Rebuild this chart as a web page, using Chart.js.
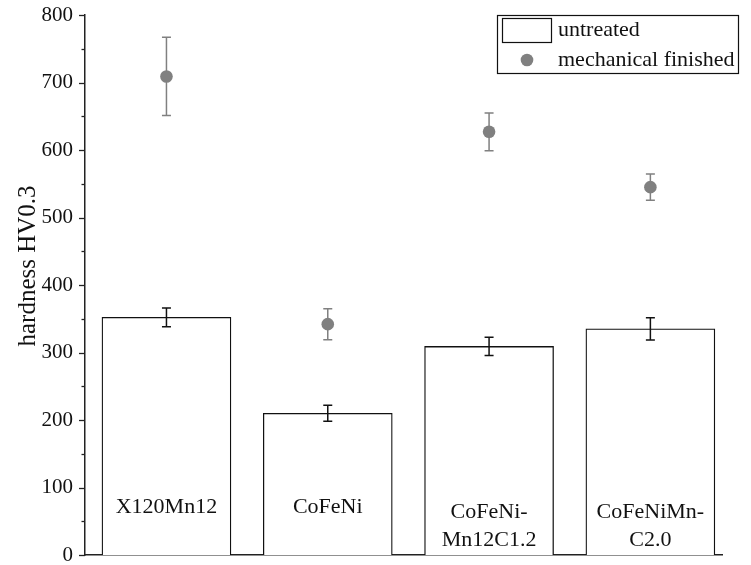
<!DOCTYPE html>
<html>
<head>
<meta charset="utf-8">
<script src="https://cdn.jsdelivr.net/npm/chart.js@4"></script>
<style>
  body { margin: 0; background: #fff; }
  canvas { display: block; }
</style>
</head>
<body>
<canvas id="myChart" width="751" height="565"></canvas>
<script>
const categories = [['X120Mn12'], ['CoFeNi'], ['CoFeNi-', 'Mn12C1.2'], ['CoFeNiMn-', 'C2.0']];
const untreated = [352, 210, 309, 335];
const untreatedErr = [14, 12, 13.5, 16.5];
const finished = [709, 342, 627, 545];
const finishedErr = [58, 23, 28, 19.5];
const yTicks = [0, 100, 200, 300, 400, 500, 600, 700, 800];

const FONT = "'Liberation Serif', 'Times New Roman', serif";
const GRAY = '#808080';
const AXIS = '#222';

// category i sits at x = i + 1 on a linear axis
const toXY = (arr) => arr.map((v, i) => ({ x: i + 1, y: v }));

function errorBars(ctx, xs, ys, vals, errs, color, cap) {
    ctx.save();
    ctx.strokeStyle = color;
    ctx.lineWidth = 1.5;
    vals.forEach((v, i) => {
        const x = xs.getPixelForValue(i + 1);
        const top = ys.getPixelForValue(v + errs[i]);
        const bot = ys.getPixelForValue(v - errs[i]);
        ctx.beginPath();
        ctx.moveTo(x, top); ctx.lineTo(x, bot);
        ctx.moveTo(x - cap, top); ctx.lineTo(x + cap, top);
        ctx.moveTo(x - cap, bot); ctx.lineTo(x + cap, bot);
        ctx.stroke();
    });
    ctx.restore();
}

const extras = {
    id: 'extras',
    afterDatasetsDraw(chart) {
        const { ctx, scales: { x, y }, chartArea } = chart;
        errorBars(ctx, x, y, untreated, untreatedErr, '#111', 4.5);
        errorBars(ctx, x, y, finished, finishedErr, GRAY, 4.5);

        // names written inside the bars
        ctx.save();
        ctx.fillStyle = '#111';
        ctx.font = '22px ' + FONT;
        ctx.textAlign = 'center';
        ctx.textBaseline = 'middle';
        categories.forEach((lines, i) => {
            const cx = x.getPixelForValue(i + 1);
            if (lines.length === 1) {
                ctx.fillText(lines[0], cx, chartArea.bottom - 48);
            } else {
                ctx.fillText(lines[0], cx, chartArea.bottom - 43);
                ctx.fillText(lines[1], cx, chartArea.bottom - 15);
            }
        });
        ctx.restore();
    },
    afterDraw(chart) {
        const { ctx, scales: { y }, chartArea } = chart;
        ctx.save();
        ctx.strokeStyle = AXIS;
        ctx.lineWidth = 1.3;
        // major + minor ticks on y
        for (let v = 0; v <= 800; v += 50) {
            const py = Math.round(y.getPixelForValue(v)) + 0.5;
            const len = v % 100 === 0 ? 6 : 3.5;
            ctx.beginPath();
            ctx.moveTo(chartArea.left - len, py);
            ctx.lineTo(chartArea.left, py);
            ctx.stroke();
        }

        // axis title
        ctx.fillStyle = '#111';
        ctx.font = '25px ' + FONT;
        ctx.textAlign = 'center';
        ctx.textBaseline = 'middle';
        ctx.translate(28, 266);
        ctx.rotate(-Math.PI / 2);
        ctx.fillText('hardness HV0.3', 0, 0);
        ctx.restore();

        // legend box
        ctx.save();
        ctx.strokeStyle = '#111';
        ctx.lineWidth = 1.2;
        ctx.strokeRect(497.5, 15.5, 241, 58);
        ctx.strokeRect(502.5, 18.5, 49, 24);
        ctx.fillStyle = GRAY;
        ctx.beginPath();
        ctx.arc(527, 60, 6.3, 0, Math.PI * 2);
        ctx.fill();
        ctx.fillStyle = '#111';
        ctx.font = '22px ' + FONT;
        ctx.textBaseline = 'middle';
        ctx.fillText('untreated', 558, 30);
        ctx.fillText('mechanical finished', 558, 60);
        ctx.restore();
    }
};

new Chart(document.getElementById('myChart'), {
    type: 'bar',
    data: {
        datasets: [{
            label: 'untreated',
            data: toXY(untreated),
            backgroundColor: '#fff',
            borderColor: '#111',
            borderWidth: 1.3,
            barThickness: 129,
            order: 2
        }, {
            type: 'scatter',
            label: 'mechanical finished',
            data: toXY(finished),
            backgroundColor: GRAY,
            borderWidth: 0,
            pointRadius: 6.3,
            order: 1
        }]
    },
    options: {
        responsive: false,
        animation: false,
        devicePixelRatio: 1,
        layout: { padding: { top: 15, right: 29, bottom: 0, left: 0 } },
        plugins: {
            legend: { display: false },
            tooltip: { enabled: false }
        },
        scales: {
            x: {
                type: 'linear',
                offset: false,
                min: 0.495,
                max: 4.444,
                ticks: { display: false },
                grid: { display: false, drawTicks: false },
                border: { display: true, color: AXIS, width: 1.5 },
                afterFit: (scale) => {
                    scale.height = 10;
                    scale.paddingLeft = 0;
                    scale.paddingRight = 0;
                }
            },
            y: {
                min: 0,
                max: 800,
                afterBuildTicks: (scale) => { scale.ticks = yTicks.map(v => ({ value: v })); },
                ticks: {
                    color: '#111',
                    padding: 12,
                    font: { family: FONT, size: 21 }
                },
                grid: { display: false, drawTicks: false },
                border: { display: true, color: AXIS, width: 1.5 },
                afterFit: (scale) => {
                    scale.width = 85;
                    scale.paddingTop = 0;
                    scale.paddingBottom = 0;
                }
            }
        }
    },
    plugins: [extras]
});
</script>
</body>
</html>
